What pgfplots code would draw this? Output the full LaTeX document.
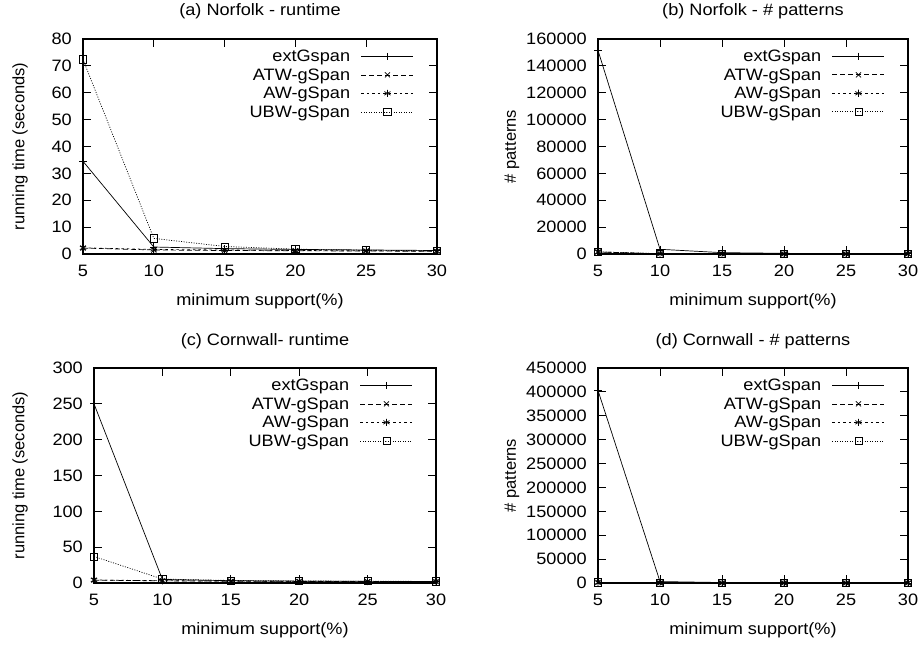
\documentclass[border=0pt]{standalone}
\usepackage{pgfplots}
\pgfplotsset{compat=1.18}
\usepackage{fontspec}
\setmainfont{Liberation Sans}[FakeStretch=1.1]
\newfontfamily\ylabfont{Liberation Sans}
\newcommand\gpfont{\fontsize{16.5}{19}\selectfont}

\pgfplotsset{
  gp/.style={
    scale only axis, anchor=south west, clip=false,
    xmin=5, xmax=30, xtick={5,10,...,30}, ymin=0,
    tick align=inside, major tick length=8pt,
    axis line style={line width=1.2pt},
    every tick/.style={black, line width=0.8pt},
    /pgf/number format/assume math mode=true,
    /pgf/number format/fixed,
    /pgf/number format/precision=0,
    /pgf/number format/1000 sep={},
    scaled y ticks=false,
    every tick label/.append style={inner sep=0pt, font=\gpfont},
    yticklabel style={xshift=-11pt},
    xticklabel style={yshift=-11pt},
    xlabel style={font=\gpfont},
    ylabel style={font=\ylabfont\gpfont},
    xlabel={minimum support(\%)},
    xlabel style={at={(axis description cs:0.5,-0.218)}, anchor=center},
    legend plot pos=right,
    legend cell align=right,
    legend style={draw=none, fill=none, inner sep=0pt, at={(rel axis cs:1,1)}, anchor=north east,
      xshift=-23pt, yshift=-9.2pt,
      font=\gpfont,
      nodes={inner xsep=0pt, inner ysep=1.5pt, text height=12pt, text depth=3.5pt},
      /tikz/every odd column/.append style={column sep=11pt}},
    legend image code/.code={\draw[mark repeat=2,mark phase=2] plot coordinates {(0pt,1.3pt) (26pt,1.3pt) (52pt,1.3pt)};},
    every axis plot/.append style={black, line width=0.7pt, mark size=3.6pt, mark options={solid, line width=0.7pt}},
  },
  s1/.style={solid, mark=+},
  s2/.style={dash pattern=on 5pt off 3pt, mark=x},
  s3/.style={dash pattern=on 2.5pt off 3pt, mark=asterisk},
  s4/.style={dash pattern=on 1pt off 1.5pt, mark=square},
}

\begin{document}
\begin{tikzpicture}
\useasboundingbox (0,0) rectangle (923pt,646pt);

% (a)
\begin{axis}[gp, at={(83pt,392pt)}, width=354pt, height=215pt,
  ymax=80, ytick={0,10,...,80},
  ylabel={running time (seconds)}, ylabel style={at={(axis description cs:-0.178,0.5)}, anchor=center}]
\addplot[s1] coordinates {(5,34.5) (10,2.6) (15,2.0) (20,1.7) (25,1.5) (30,1.3)};
\addplot[s2] coordinates {(5,2.2) (10,1.5) (15,1.3) (20,1.2) (25,1.1) (30,1.0)};
\addplot[s3] coordinates {(5,2.3) (10,1.7) (15,1.5) (20,1.3) (25,1.2) (30,1.1)};
\addplot[s4] coordinates {(5,72.4) (10,5.8) (15,2.8) (20,1.8) (25,1.4) (30,1.2)};
\legend{extGspan, ATW-gSpan, AW-gSpan, UBW-gSpan}
\node[font=\gpfont, anchor=center, inner sep=0pt] at (rel axis cs:0.5,1.128) {(a) Norfolk - runtime};
\end{axis}

% (b)
\begin{axis}[gp, at={(598pt,392pt)}, width=310pt, height=215pt,
  ymax=160000, ytick={0,20000,...,160000},
  ylabel={\# patterns}, ylabel style={at={(axis description cs:-0.2774,0.5)}, anchor=center}]
\addplot[s1] coordinates {(5,151500) (10,3500) (15,1000) (20,500) (25,300) (30,200)};
\addplot[s2] coordinates {(5,1500) (10,200) (15,100) (20,50) (25,30) (30,20)};
\addplot[s3] coordinates {(5,1500) (10,200) (15,100) (20,50) (25,30) (30,20)};
\addplot[s4] coordinates {(5,1600) (10,250) (15,120) (20,60) (25,40) (30,25)};
\legend{extGspan, ATW-gSpan, AW-gSpan, UBW-gSpan}
\node[font=\gpfont, anchor=center, inner sep=0pt] at (rel axis cs:0.5,1.128) {(b) Norfolk - \# patterns};
\end{axis}

% (c)
\begin{axis}[gp, at={(94pt,63pt)}, width=342pt, height=215pt,
  ymax=300, ytick={0,50,...,300},
  ylabel={running time (seconds)}, ylabel style={at={(axis description cs:-0.2164,0.5)}, anchor=center}]
\addplot[s1] coordinates {(5,250) (10,5) (15,3.2) (20,2.6) (25,2.3) (30,2.1)};
\addplot[s2] coordinates {(5,4) (10,3) (15,2.5) (20,2.2) (25,2.0) (30,1.9)};
\addplot[s3] coordinates {(5,4.2) (10,3.2) (15,2.7) (20,2.4) (25,2.2) (30,2.0)};
\addplot[s4] coordinates {(5,37) (10,5.5) (15,3.5) (20,2.8) (25,2.5) (30,2.2)};
\legend{extGspan, ATW-gSpan, AW-gSpan, UBW-gSpan}
\node[font=\gpfont, anchor=center, inner sep=0pt] at (rel axis cs:0.5,1.123) {(c) Cornwall- runtime};
\end{axis}

% (d)
\begin{axis}[gp, at={(598pt,63pt)}, width=310pt, height=215pt,
  ymax=450000, ytick={0,50000,...,450000},
  ylabel={\# patterns}, ylabel style={at={(axis description cs:-0.2774,0.5)}, anchor=center}]
\addplot[s1] coordinates {(5,403000) (10,3000) (15,1000) (20,500) (25,300) (30,200)};
\addplot[s2] coordinates {(5,1200) (10,200) (15,100) (20,50) (25,30) (30,20)};
\addplot[s3] coordinates {(5,1200) (10,200) (15,100) (20,50) (25,30) (30,20)};
\addplot[s4] coordinates {(5,1300) (10,250) (15,120) (20,60) (25,40) (30,25)};
\legend{extGspan, ATW-gSpan, AW-gSpan, UBW-gSpan}
\node[font=\gpfont, anchor=center, inner sep=0pt] at (rel axis cs:0.5,1.123) {(d) Cornwall - \# patterns};
\end{axis}
\end{tikzpicture}
\end{document}
